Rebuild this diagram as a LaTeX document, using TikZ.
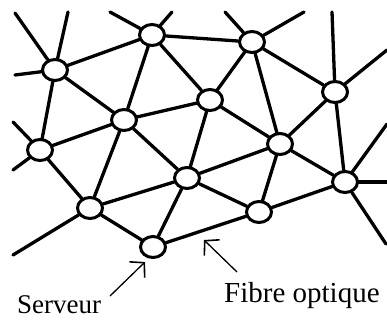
\documentclass[tikz,border=0pt]{standalone}
\usepackage{fontspec}
\setmainfont{Liberation Serif}
\usetikzlibrary{arrows.meta,shapes.geometric}
\begin{document}
\begin{tikzpicture}[x=1pt,y=-1pt,
  srv/.style={draw=black,fill=white,line width=3pt,ellipse,minimum width=25pt,minimum height=21pt,inner sep=0pt},
  link/.style={line width=3.3pt,line cap=round},
  lbl/.style={inner sep=0pt,anchor=base west},
  ptr/.style={line width=1.3pt,-{Straight Barb[length=10pt,width=22pt,line width=1.6pt]}}]
\useasboundingbox (0,0) rectangle (387,320);
% free ends
\coordinate (a1) at (15,13);
\coordinate (a2) at (68,12);
\coordinate (a3) at (15,75);
\coordinate (b1) at (110,12);
\coordinate (b2) at (172,12);
\coordinate (e1) at (225,12);
\coordinate (e2) at (304,12);
\coordinate (g1) at (332,12);
\coordinate (g2) at (387,50);
\coordinate (d1) at (13,122);
\coordinate (d2) at (13,170);
\coordinate (i1) at (13,255);
\coordinate (l1) at (387,124);
\coordinate (l2) at (387,182);
\coordinate (l3) at (386,244);
% nodes
\node[srv] (A) at (55,70) {};
\node[srv] (B) at (152,35) {};
\node[srv] (C) at (124,120) {};
\node[srv] (D) at (40,150) {};
\node[srv] (E) at (252,42) {};
\node[srv] (F) at (210,100) {};
\node[srv] (G) at (335,92) {};
\node[srv] (H) at (280,144) {};
\node[srv] (I) at (90,208) {};
\node[srv] (J) at (153,247) {};
\node[srv] (K) at (187,178) {};
\node[srv] (L) at (345,182) {};
\node[srv] (M) at (259,212) {};
% links
\foreach \u/\v in {A/a1,A/a2,A/a3,A/B,A/C,A/D,
  B/b1,B/b2,B/E,B/C,B/F,
  E/e1,E/e2,E/F,E/H,E/G,
  G/g1,G/g2,G/H,G/L,
  D/d1,D/d2,D/C,D/I,
  C/F,C/K,C/I,
  F/K,F/H,
  H/K,H/M,H/L,
  K/I,K/J,K/M,
  I/i1,I/J,
  J/M,M/L,
  L/l1,L/l2,L/l3}
  \draw[link] (\u) -- (\v);
% labels
\node[lbl,font=\fontsize{27}{30}\selectfont] (srvlbl) at (17,313) {Serveur};
\node[lbl,font=\fontsize{29}{32}\selectfont] (fiblbl) at (224,302) {Fibre optique};
\coordinate (st) at (110,296);
\coordinate (sh) at (145,262);
\coordinate (ft) at (237,272);
\coordinate (fh) at (204,240);
\draw[ptr] (st) -- (sh);
\draw[ptr] (ft) -- (fh);
\end{tikzpicture}
\end{document}
